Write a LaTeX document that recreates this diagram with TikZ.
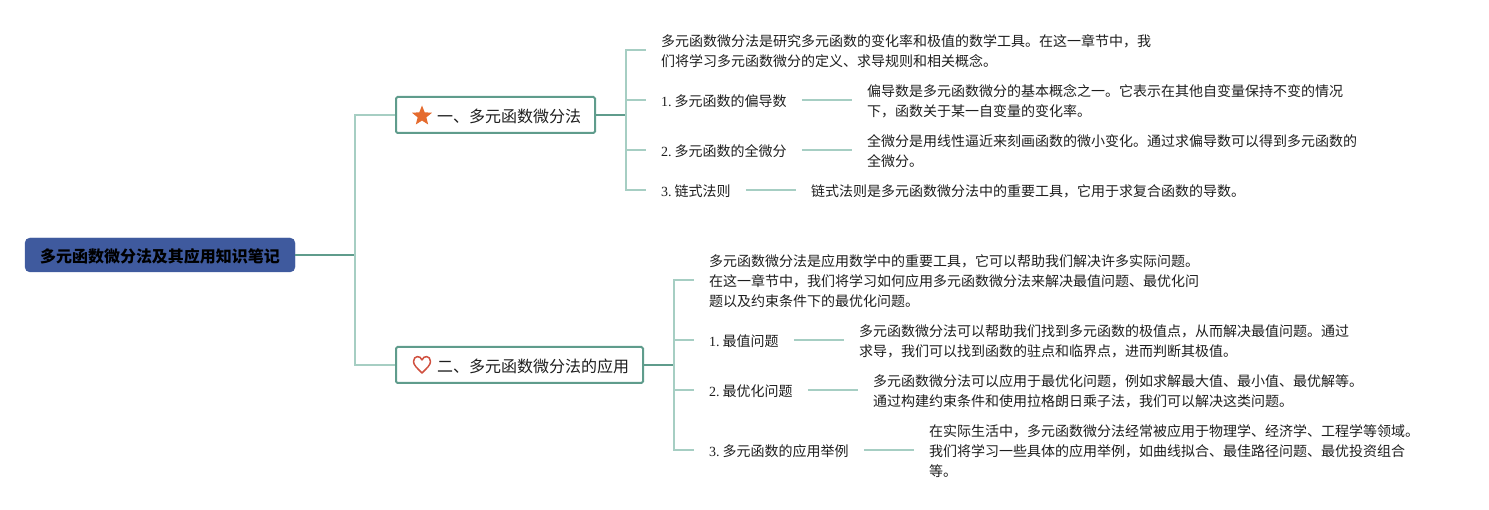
\documentclass[tikz,border=0pt]{standalone}
\usepackage{fontspec}
\setmainfont{Noto Sans CJK SC}
\newfontfamily\latinnum{Liberation Serif}
\usetikzlibrary{positioning,shapes.geometric}
\definecolor{rootblue}{HTML}{3F5A9E}
\definecolor{trunkgreen}{HTML}{5F9C8C}
\definecolor{leafgreen}{HTML}{A6CEC3}
\definecolor{staror}{HTML}{E56B2E}
\definecolor{heartred}{HTML}{D0503F}
\definecolor{inkgrey}{HTML}{1E1E1E}
\newcommand{\numlabel}[1]{{\latinnum #1.}\hspace{3pt}}
\tikzset{
  nudge/.style={align=left,execute at begin node={\rule{0pt}{#1}}},
  rootbox/.style={nudge=16.1pt,draw=rootblue,fill=rootblue,rounded corners=5pt,minimum width=270pt,minimum height=34pt,inner sep=0pt,font=\fontsize{16}{20}\selectfont\bfseries,text=black},
  topicbox/.style={nudge=16.1pt,draw=trunkgreen,line width=2pt,rounded corners=1.5pt,fill=white,minimum height=36pt,inner xsep=14pt,inner ysep=0pt,font=\fontsize{16}{20}\selectfont,text=inkgrey},
  itembox/.style={nudge=14.3pt,inner xsep=15pt,inner ysep=0pt,font=\fontsize{14}{20}\selectfont,text=inkgrey},
  twolines/.style={itembox,nudge=34.3pt},
  threelines/.style={itembox,nudge=54.3pt},
  trunk/.style={draw=trunkgreen,line width=1.5pt},
  leaf/.style={draw=leafgreen,line width=1.5pt}
}
\begin{document}
\begin{tikzpicture}[x=1pt,y=-1pt]
  \useasboundingbox (0,0) rectangle (1489,510);
  % Zentrum
  \node[rootbox] (root) at (160,255) {多元函数微分法及其应用知识笔记};
  \coordinate (jroot) at (355,255);
  % Hauptzweige
  \node[topicbox,anchor=west] (topicA) at (395,115) {\hspace*{27pt}一、多元函数微分法};
  \node[topicbox,anchor=west] (topicB) at (395,365) {\hspace*{27pt}二、多元函数微分法的应用};
  \node[star,star points=5,star point ratio=2.3,fill=staror,minimum size=21pt,inner sep=0pt] (starA) at (422,116) {};
  \coordinate (heartB) at (422,373);
  \draw[heartred,line width=1.5pt,line join=round] (heartB) .. controls (417,368) and (413.5,365) .. (413.5,361.5)
    .. controls (413.5,355.5) and (420.5,355) .. (422,360) .. controls (423.5,355) and (430.5,355.5) .. (430.5,361.5)
    .. controls (430.5,365) and (427,368) .. (heartB) -- cycle;
  \draw[trunk] (root) -- (jroot);
  \foreach\t in {topicA,topicB} { \draw[leaf] (jroot) |- (\t.west); }
  % erster Zweig
  \coordinate (jA) at (626,115);
  \node[twolines,anchor=west] (introA) at (646,50) {多元函数微分法是研究多元函数的变化率和极值的数学工具。在这一章节中，我\\们将学习多元函数微分的定义、求导规则和相关概念。};
  \node[itembox,anchor=west] (itemAa) at (646,100) {\numlabel{1}多元函数的偏导数};
  \node[itembox,anchor=west] (itemAb) at (646,150) {\numlabel{2}多元函数的全微分};
  \node[itembox,anchor=west] (itemAc) at (646,190) {\numlabel{3}链式法则};
  \node[twolines,right=50pt of itemAa] (textAa) {偏导数是多元函数微分的基本概念之一。它表示在其他自变量保持不变的情况\\下，函数关于某一自变量的变化率。};
  \node[twolines,right=50pt of itemAb] (textAb) {全微分是用线性逼近来刻画函数的微小变化。通过求偏导数可以得到多元函数的\\全微分。};
  \node[itembox,right=50pt of itemAc] (textAc) {链式法则是多元函数微分法中的重要工具，它用于求复合函数的导数。};
  \draw[trunk] (topicA) -- (jA);
  \foreach\n in {introA,itemAa,itemAb,itemAc} { \draw[leaf] (jA) |- (\n.west); }
  \foreach\n in {a,b,c} { \draw[leaf] (itemA\n) -- (textA\n); }
  % zweiter Zweig
  \coordinate (jB) at (674,365);
  \node[threelines,anchor=west] (introB) at (694,280) {多元函数微分法是应用数学中的重要工具，它可以帮助我们解决许多实际问题。\\在这一章节中，我们将学习如何应用多元函数微分法来解决最值问题、最优化问\\题以及约束条件下的最优化问题。};
  \node[itembox,anchor=west] (itemBa) at (694,340) {\numlabel{1}最值问题};
  \node[itembox,anchor=west] (itemBb) at (694,390) {\numlabel{2}最优化问题};
  \node[itembox,anchor=west] (itemBc) at (694,450) {\numlabel{3}多元函数的应用举例};
  \node[twolines,right=50pt of itemBa] (textBa) {多元函数微分法可以帮助我们找到多元函数的极值点，从而解决最值问题。通过\\求导，我们可以找到函数的驻点和临界点，进而判断其极值。};
  \node[twolines,right=50pt of itemBb] (textBb) {多元函数微分法可以应用于最优化问题，例如求解最大值、最小值、最优解等。\\通过构建约束条件和使用拉格朗日乘子法，我们可以解决这类问题。};
  \node[threelines,right=50pt of itemBc] (textBc) {在实际生活中，多元函数微分法经常被应用于物理学、经济学、工程学等领域。\\我们将学习一些具体的应用举例，如曲线拟合、最佳路径问题、最优投资组合\\等。};
  \draw[trunk] (topicB) -- (jB);
  \foreach\n in {introB,itemBa,itemBb,itemBc} { \draw[leaf] (jB) |- (\n.west); }
  \foreach\n in {a,b,c} { \draw[leaf] (itemB\n) -- (textB\n); }
\end{tikzpicture}
\end{document}
